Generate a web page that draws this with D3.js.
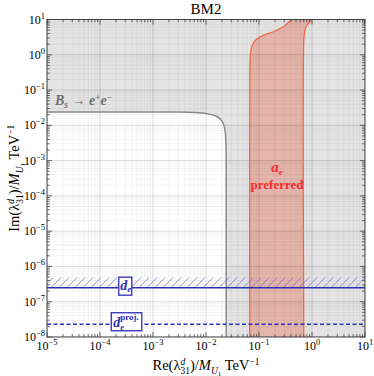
<!DOCTYPE html>
<html>
<head>
<meta charset="utf-8">
<script src="https://cdn.jsdelivr.net/npm/d3@7"></script>
<style>
  body { margin: 0; background: #fff; }
  svg { display: block; }
</style>
</head>
<body>
<svg id="chart" width="374" height="376"></svg>
<script>
// axis ranges
const xDomain = [1e-5, 10];
const yDomain = [1e-8, 10];
const xExponents = [-5, -4, -3, -2, -1, 0, 1];
const yExponents = [-8, -7, -6, -5, -4, -3, -2, -1, 0, 1];

// Bs -> e+e- boundary (inside = allowed, white)
const bsBoundary = [
  [1e-5, 0.024], [0.003, 0.0238], [0.006, 0.0232], [0.01, 0.0218], [0.015, 0.0187],
  [0.019, 0.0147], [0.022, 0.0096], [0.0233, 0.0058], [0.0238, 0.003], [0.024, 0.001], [0.024, 1e-8]
];

// a_e preferred band, both edges from bottom to top
const aeLeft = [
  [0.067, 1e-8], [0.067, 0.3], [0.068, 0.7], [0.0695, 1.2], [0.073, 1.7], [0.079, 2.2],
  [0.09, 2.75], [0.11, 3.35], [0.14, 3.9], [0.186, 4.5], [0.287, 6.25], [0.414, 10]
];
const aeRight = [
  [0.70, 1e-8], [0.70, 2.62], [0.716, 3.64], [0.738, 5.04], [0.815, 6.98], [0.916, 8.67], [1.03, 10]
];

// electron EDM limits
const deLimit = 2.5e-7;
const deHatchTop = 4.8e-7;
const deProj = 2.3e-8;

const pL = 47, pR = 365, pT = 19.5, pB = 337;
const serif = "'Liberation Serif', 'DejaVu Serif', serif";

const svg = d3.select("#chart");
const x = d3.scaleLog().domain(xDomain).range([pL, pR]);
const y = d3.scaleLog().domain(yDomain).range([pB, pT]);

const defs = svg.append("defs");
defs.append("clipPath").attr("id", "plotclip")
  .append("rect").attr("x", pL).attr("y", pT)
  .attr("width", pR - pL).attr("height", pB - pT);

// rich text helper: parts = [text, {rise, size, style, weight, back}]
function richText(g, px, py, parts, opts) {
  const t = g.append("text").attr("x", px).attr("y", py)
    .attr("font-family", serif)
    .attr("font-size", opts.size)
    .attr("fill", opts.fill || "#000")
    .attr("text-anchor", opts.anchor || "start");
  if (opts.weight) t.attr("font-weight", opts.weight);
  let rise = 0, prev = null;
  parts.forEach(([txt, o = {}]) => {
    const r = o.rise || 0;
    const s = t.append("tspan").text(txt)
      .attr("dy", -(r - rise))
      .attr("font-size", o.size || opts.size);
    if (o.style) s.attr("font-style", o.style);
    if (o.weight) s.attr("font-weight", o.weight);
    if (o.back && prev) s.attr("dx", -prev.node().getComputedTextLength());
    rise = r;
    prev = s;
  });
  return t;
}

const plot = svg.append("g").attr("clip-path", "url(#plotclip)");

// excluded region (gray) and allowed interior (white)
plot.append("rect").attr("x", pL).attr("y", pT)
  .attr("width", pR - pL).attr("height", pB - pT)
  .attr("fill", "#e4e4e4");

const lineGen = d3.line().x(d => x(d[0])).y(d => y(d[1]));
const smooth = d3.line().x(d => x(d[0])).y(d => y(d[1])).curve(d3.curveCatmullRom);
const interior = [[1e-5, 1e-8]].concat(bsBoundary);
plot.append("path").attr("d", lineGen(interior) + "Z").attr("fill", "#fff");

// a_e band fill
const band = aeLeft.concat(aeRight.slice().reverse());
plot.append("path").attr("d", smooth(band) + "Z")
  .attr("fill", "rgba(228,100,70,0.37)");

// grid
const xTicks = x.ticks();
const yTicks = y.ticks();
const isMajor = v => Math.abs(Math.log10(v) - Math.round(Math.log10(v))) < 1e-9;
const grid = plot.append("g");
xTicks.forEach(v => {
  grid.append("line").attr("x1", x(v)).attr("x2", x(v)).attr("y1", pT).attr("y2", pB)
    .attr("stroke", isMajor(v) ? "rgba(0,0,0,0.14)" : "rgba(0,0,0,0.055)")
    .attr("stroke-width", isMajor(v) ? 1 : 0.8);
});
yTicks.forEach(v => {
  grid.append("line").attr("y1", y(v)).attr("y2", y(v)).attr("x1", pL).attr("x2", pR)
    .attr("stroke", isMajor(v) ? "rgba(0,0,0,0.14)" : "rgba(0,0,0,0.055)")
    .attr("stroke-width", isMajor(v) ? 1 : 0.8);
});

// a_e band edges
[aeLeft, aeRight].forEach(edge => {
  plot.append("path").attr("d", smooth(edge))
    .attr("fill", "none").attr("stroke", "#ef6a42").attr("stroke-width", 1.3);
});

// Bs boundary
plot.append("path").attr("d", smooth(bsBoundary))
  .attr("fill", "none").attr("stroke", "#8a8a8a").attr("stroke-width", 1.5);

// d_e hatched band and limit lines
const blue = "#2e2eb8";
const hy0 = y(deLimit), hy1 = y(deHatchTop);
const hatchG = plot.append("g");
d3.range(pL - 20, pR + 10, 8).forEach(hx => {
  hatchG.append("line").attr("x1", hx).attr("y1", hy0)
    .attr("x2", hx + (hy0 - hy1)).attr("y2", hy1)
    .attr("stroke", "#5b5bea").attr("stroke-width", 0.7);
});
plot.append("line").attr("x1", pL).attr("x2", pR)
  .attr("y1", hy0).attr("y2", hy0)
  .attr("stroke", blue).attr("stroke-width", 1.4);
plot.append("line").attr("x1", pL).attr("x2", pR)
  .attr("y1", y(deProj)).attr("y2", y(deProj))
  .attr("stroke", blue).attr("stroke-width", 1.3)
  .attr("stroke-dasharray", "4,2.5");

// frame and ticks
const frame = svg.append("g");
frame.append("rect").attr("x", pL).attr("y", pT)
  .attr("width", pR - pL).attr("height", pB - pT)
  .attr("fill", "none").attr("stroke", "#444").attr("stroke-width", 1);
xTicks.forEach(v => {
  const len = isMajor(v) ? 5 : 2.8;
  frame.append("line").attr("x1", x(v)).attr("x2", x(v)).attr("y1", pB).attr("y2", pB - len)
    .attr("stroke", "#444").attr("stroke-width", 0.8);
  frame.append("line").attr("x1", x(v)).attr("x2", x(v)).attr("y1", pT).attr("y2", pT + len)
    .attr("stroke", "#444").attr("stroke-width", 0.8);
});
yTicks.forEach(v => {
  const len = isMajor(v) ? 5 : 2.8;
  frame.append("line").attr("y1", y(v)).attr("y2", y(v)).attr("x1", pL).attr("x2", pL + len)
    .attr("stroke", "#444").attr("stroke-width", 0.8);
  frame.append("line").attr("y1", y(v)).attr("y2", y(v)).attr("x1", pR).attr("x2", pR - len)
    .attr("stroke", "#444").attr("stroke-width", 0.8);
});

// tick labels
const labels = svg.append("g");
const exp = e => (e < 0 ? "\u2212" + (-e) : String(e));
xExponents.forEach(e => {
  richText(labels, x(Math.pow(10, e)), pB + 13,
    [["10"], [exp(e), { rise: 5, size: 8.5 }]], { size: 12, anchor: "middle" });
});
yExponents.forEach(e => {
  richText(labels, pL - 2, y(Math.pow(10, e)) + 4,
    [["10"], [exp(e), { rise: 5, size: 8.5 }]], { size: 12, anchor: "end" });
});

// title
svg.append("text").attr("x", (pL + pR) / 2).attr("y", 14)
  .attr("text-anchor", "middle").attr("font-family", serif).attr("font-size", 15)
  .text("BM2");

// axis labels
const axisParts = head => [
  [head + "(\u03bb"], ["d", { rise: 5, size: 9.5, style: "italic" }],
  ["31", { rise: -3.5, size: 9.5, back: true }], [")/"],
  ["M", { style: "italic" }], ["U", { rise: -3.5, size: 9.5, style: "italic" }],
  ["1", { rise: -5.5, size: 7 }], [" TeV"], ["\u22121", { rise: 5.5, size: 9.5 }]
];
richText(svg, (pL + pR) / 2, 370, axisParts("Re"), { size: 14.5, anchor: "middle" });

const ylab = svg.append("g").attr("transform", `translate(19,${(pT + pB) / 2}) rotate(-90)`);
richText(ylab, 0, 0, axisParts("Im"), { size: 14.5, anchor: "middle" });

// in-plot annotations
richText(svg, 55, 105, [
  ["B", { style: "italic" }], ["s", { rise: -3, size: 9.5, style: "italic" }],
  [" \u2192 "], ["e", { style: "italic" }], ["+", { rise: 5, size: 9 }],
  ["e", { style: "italic" }], ["\u2212", { rise: 5, size: 9 }]
], { size: 14, fill: "#6e6e6e", weight: "bold" });

const aeX = x(0.219);
richText(svg, aeX, 172, [
  ["a", { style: "italic" }], ["e", { rise: -2.5, size: 9, style: "italic" }]
], { size: 15, fill: "#ff2a2a", weight: "bold", anchor: "middle" });
svg.append("text").attr("x", aeX).attr("y", 189)
  .attr("text-anchor", "middle").attr("font-family", serif).attr("font-size", 13)
  .attr("font-weight", "bold").attr("fill", "#ff2a2a").text("preferred");

// d_e boxes
const deX = x(3e-4);
svg.append("rect").attr("x", deX - 6.5).attr("y", y(deLimit) - 10.5)
  .attr("width", 13).attr("height", 18)
  .attr("fill", "#fff").attr("stroke", blue).attr("stroke-width", 1.3);
richText(svg, deX - 5, y(deLimit) + 2, [
  ["d", { style: "italic" }], ["e", { rise: -2.5, size: 9, style: "italic" }]
], { size: 14, fill: blue, weight: "bold" });

const dpX = x(3e-4);
svg.append("rect").attr("x", dpX - 14).attr("y", y(deProj) - 11.5)
  .attr("width", 30.5).attr("height", 18)
  .attr("fill", "#fff").attr("stroke", blue).attr("stroke-width", 1.3);
richText(svg, dpX - 12, y(deProj) + 2.5, [
  ["d", { style: "italic" }], ["e", { rise: -3, size: 8.5, style: "italic" }],
  ["proj.", { rise: 6.5, size: 9, back: true }]
], { size: 14, fill: blue, weight: "bold" });
</script>
</body>
</html>
